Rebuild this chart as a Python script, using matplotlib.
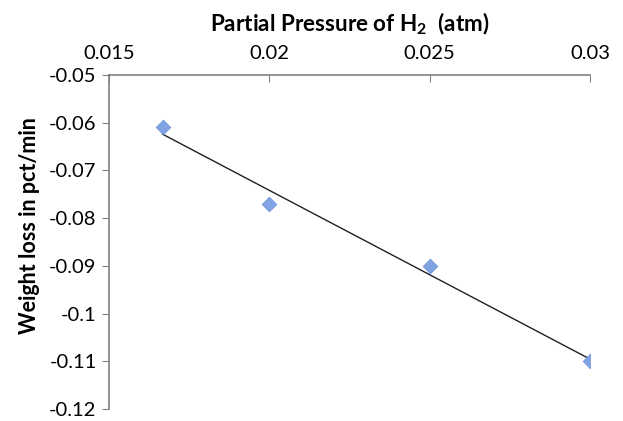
import numpy as np
import matplotlib.pyplot as plt

plt.rcParams['font.family'] = ['Lato', 'DejaVu Sans']
plt.rcParams['mathtext.fontset'] = 'custom'
plt.rcParams['mathtext.rm'] = 'Lato'
plt.rcParams['mathtext.bf'] = 'Lato:bold'

# data
pressure = [0.01667, 0.02, 0.025, 0.03]
weight_loss = [-0.061, -0.077, -0.090, -0.110]

xticks = [0.015, 0.02, 0.025, 0.03]
xtick_labels = ['0.015', '0.02', '0.025', '0.03']
yticks = [-0.05, -0.06, -0.07, -0.08, -0.09, -0.1, -0.11, -0.12]
ytick_labels = ['-0.05', '-0.06', '-0.07', '-0.08', '-0.09', '-0.1', '-0.11', '-0.12']

fig = plt.figure(figsize=(6.23, 4.21), dpi=100)
ax = fig.add_axes([0.175, 0.0285, 0.772, 0.7935])

# linear trendline
k, b = np.polyfit(pressure, weight_loss, 1)
xl = np.array([min(pressure), max(pressure)])
ax.plot(xl, k * xl + b, color='#202020', lw=1.0, zorder=2)

ax.scatter(pressure, weight_loss, marker='D', s=55, color='#7fa3e3',
           edgecolor='#6f95da', linewidth=0.6, zorder=3)

ax.set_xlim(0.015, 0.03)
ax.set_ylim(-0.12, -0.05)

ax.xaxis.tick_top()
ax.xaxis.set_label_position('top')
ax.set_xticks(xticks)
ax.set_xticklabels(xtick_labels)
ax.set_yticks(yticks)
ax.set_yticklabels(ytick_labels)

for s in ['right', 'bottom']:
    ax.spines[s].set_visible(False)
for s in ['left', 'top']:
    ax.spines[s].set_color('#808080')
    ax.spines[s].set_linewidth(1.2)

ax.tick_params(axis='x', direction='in', length=5, color='#808080',
               labelsize=14.5, pad=9, top=True, bottom=False)
ax.tick_params(axis='y', direction='out', length=5, color='#808080',
               labelsize=14.5, pad=4)

ax.set_xlabel('Partial Pressure of H$_\\mathbf{2}$  (atm)', fontsize=16.2,
              fontweight='bold', labelpad=10)
ax.set_ylabel('Weight loss in pct/min', fontsize=15.5, fontweight='bold')
ax.yaxis.set_label_coords(-0.143, 0.548)

fig.savefig('out.png', dpi=100)
